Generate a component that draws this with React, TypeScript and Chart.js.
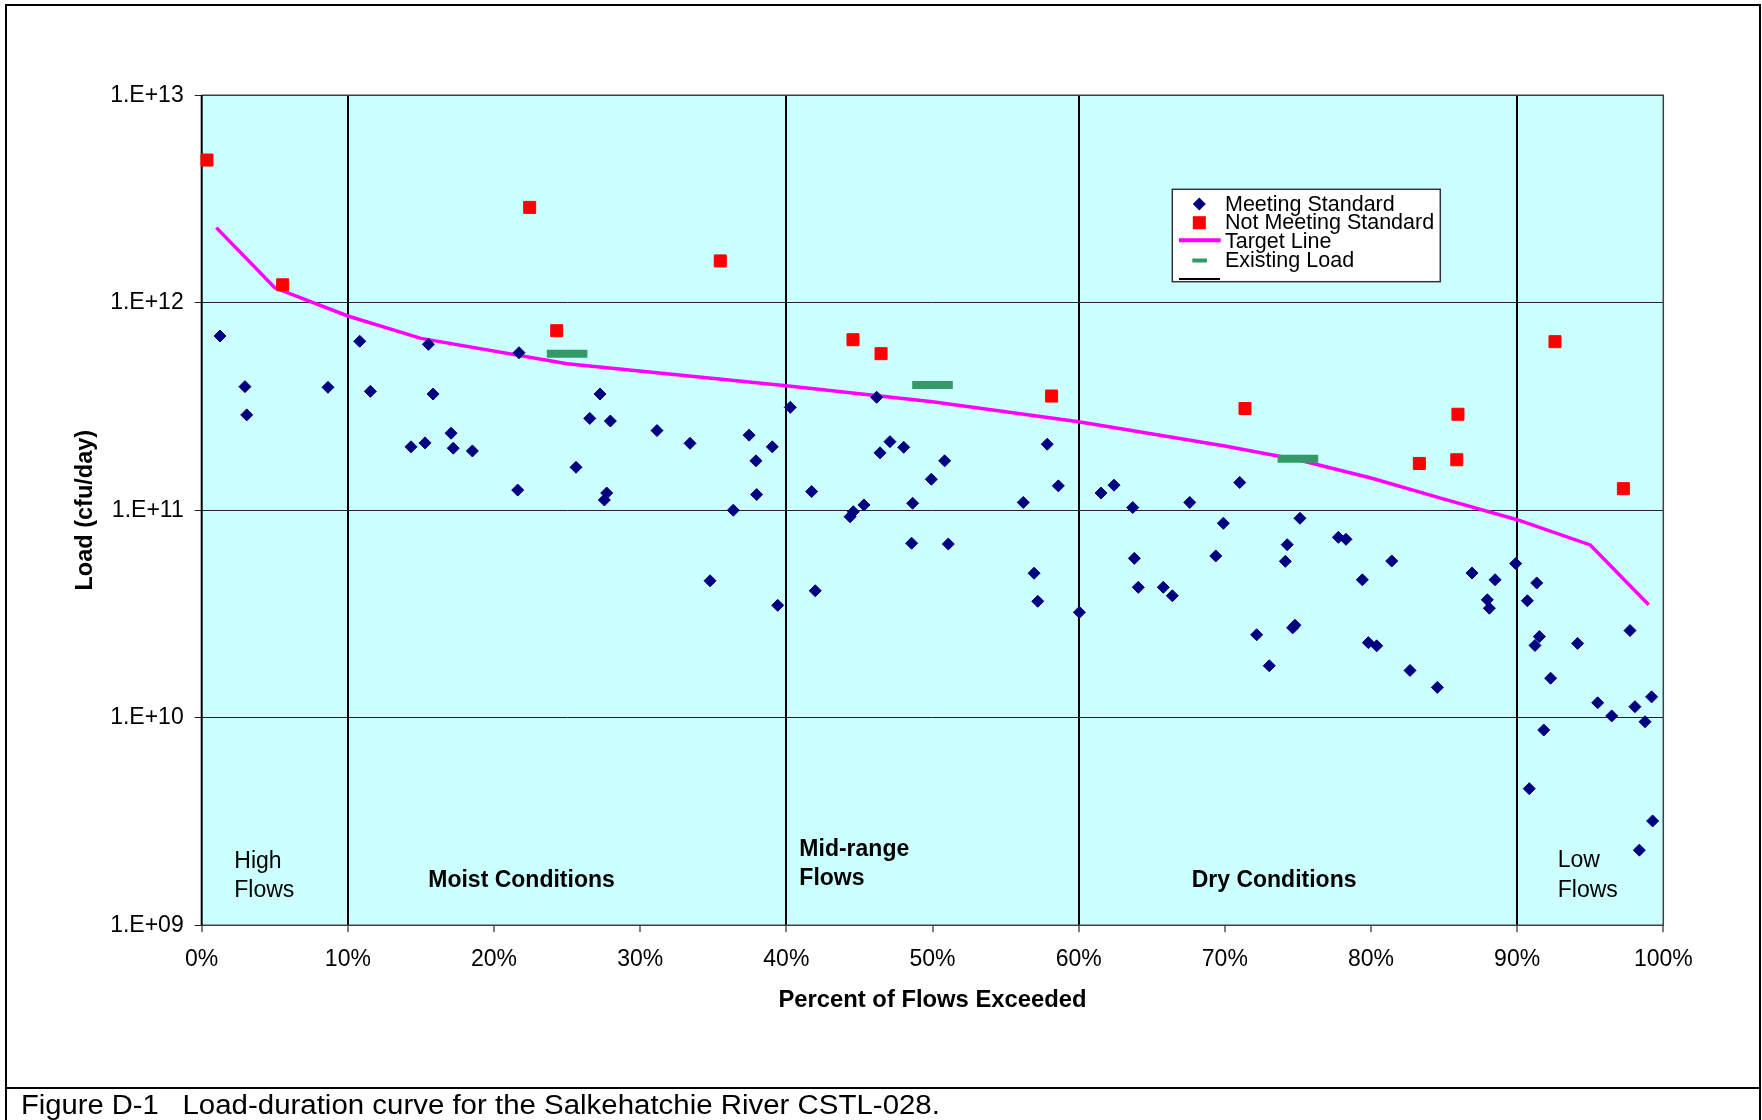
import React, { useEffect, useRef } from 'react';
import { Chart, registerables } from 'chart.js';

Chart.register(...registerables);

// Sampled loads that met the standard (percent of flows exceeded, cfu/day)
const meetingPct = [
  1.25, 2.96, 3.08, 8.64, 10.81, 11.54, 14.32, 15.28, 15.51, 15.83, 17.06, 17.21, 18.52, 21.62, 21.71,
  25.61, 26.55, 27.25, 27.55, 27.71, 27.96, 31.15, 33.41, 34.78, 36.37, 37.45, 37.92, 37.97, 39.04, 39.41,
  40.27, 41.73, 41.98, 44.36, 44.58, 45.31, 46.18, 46.41, 47.09, 48.03, 48.57, 48.64, 49.92, 50.83, 51.08,
  56.21, 56.95, 57.2, 57.85, 58.61, 60.05, 61.53, 62.42, 63.7, 63.81, 64.08, 65.79, 66.41, 67.6, 69.38,
  69.9, 71.02, 72.18, 73.04, 74.14, 74.27, 74.64, 74.8, 75.14, 77.77, 78.29, 79.41, 79.82, 80.39, 81.42,
  82.67, 84.54, 86.91, 87.96, 88.1, 88.49, 89.9, 90.7, 90.83, 91.22, 91.34, 91.52, 91.82, 92.29, 94.14,
  95.51, 96.47, 97.72, 98.06, 98.36, 98.75, 99.2, 99.27,
];
const meetingLoad = [
  6.91e11, 3.94e11, 2.88e11, 3.91e11, 6.52e11, 3.74e11, 2.02e11, 2.11e11, 6.3e11, 3.63e11, 2.35e11, 1.99e11, 1.93e11, 1.25e11, 5.74e11,
  1.61e11, 2.77e11, 3.63e11, 1.12e11, 1.21e11, 2.69e11, 2.42e11, 2.1e11, 4.57e10, 1.0e11, 2.3e11, 1.73e11, 1.19e11, 2.02e11, 3.48e10,
  3.13e11, 1.23e11, 4.09e10, 9.3e10, 9.83e10, 1.06e11, 3.5e11, 1.89e11, 2.14e11, 2.01e11, 6.93e10, 1.08e11, 1.41e11, 1.73e11, 6.87e10,
  1.09e11, 4.97e10, 3.64e10, 2.08e11, 1.31e11, 3.22e10, 1.21e11, 1.32e11, 1.03e11, 5.86e10, 4.25e10, 4.25e10, 3.87e10, 1.09e11, 6.02e10,
  8.65e10, 1.36e11, 2.51e10, 1.78e10, 5.67e10, 6.82e10, 2.71e10, 2.79e10, 9.14e10, 7.4e10, 7.24e10, 4.62e10, 2.3e10, 2.22e10, 5.69e10,
  1.69e10, 1.4e10, 4.98e10, 3.7e10, 3.37e10, 4.62e10, 5.53e10, 3.66e10, 4.55e9, 2.23e10, 4.46e10, 2.46e10, 8.72e9, 1.55e10, 2.28e10,
  1.18e10, 1.02e10, 2.63e10, 1.13e10, 2.3e9, 9.56e9, 1.26e10, 3.18e9,
];

// Sampled loads that exceeded the standard
const exceedPct = [0.36, 5.54, 22.44, 24.29, 35.48, 44.56, 46.48, 58.15, 71.38, 83.31, 85.87, 85.95, 92.59, 97.27];
const exceedLoad = [4.87e12, 1.22e12, 2.88e12, 7.33e11, 1.59e12, 6.63e11, 5.68e11, 3.55e11, 3.09e11, 1.68e11, 1.75e11, 2.9e11, 6.49e11, 1.27e11];

// Target load-duration curve
const targetPct = [1, 5, 10, 15, 25, 40, 50, 60, 70, 75, 80, 85, 90, 95, 99];
const targetLoad = [2.3e12, 1.18e12, 8.63e11, 6.73e11, 5.08e11, 3.98e11, 3.33e11, 2.67e11, 2.04e11, 1.75e11, 1.43e11, 1.13e11, 9.0e10, 6.8e10, 3.5e10];

// Existing load per flow zone
const existingPct = [25, 50, 75];
const existingLoad = [5.68e11, 4.01e11, 1.77e11];

// Axes
const xTickValues = [0, 10, 20, 30, 40, 50, 60, 70, 80, 90, 100];
const yTickExponents = [9, 10, 11, 12, 13];
const zoneBoundaries = [10, 40, 60, 90];

// Flow-zone captions: [lines, left edge in %, bold, baseline offsets above the x axis]
const zoneLabels: { lines: string[]; pct: number; bold: boolean; rise: number[] }[] = [
  { lines: ['High', 'Flows'], pct: 2.23, bold: false, rise: [57, 28] },
  { lines: ['Moist Conditions'], pct: 15.5, bold: true, rise: [38] },
  { lines: ['Mid-range', 'Flows'], pct: 40.89, bold: true, rise: [69, 40] },
  { lines: ['Dry Conditions'], pct: 67.73, bold: true, rise: [38] },
  { lines: ['Low', 'Flows'], pct: 92.78, bold: false, rise: [58, 28] },
];

const legendLabels = ['Meeting Standard', 'Not Meeting Standard', 'Target Line', 'Existing Load'];

const FONT = '"Liberation Sans", Arial, Helvetica, sans-serif';
const NAVY = '#000080';
const RED = '#FF0000';
const MAGENTA = '#FF00FF';
const GREEN = '#339966';
const PLOT_BG = '#CCFFFF';

const toPoints = (xs: number[], ys: number[]) => xs.map((x, i) => ({ x, y: ys[i] }));

const decorations = {
  id: 'ldcDecorations',
  beforeDraw(chart: any) {
    const { ctx, chartArea: a, width, height } = chart;
    ctx.save();
    ctx.fillStyle = '#FFFFFF';
    ctx.fillRect(0, 0, width, height);
    // figure frame and caption rule
    ctx.strokeStyle = '#000';
    ctx.lineWidth = 2;
    ctx.strokeRect(6, 5, width - 8, height + 10);
    ctx.beginPath();
    ctx.moveTo(6, 1088);
    ctx.lineTo(width - 2, 1088);
    ctx.stroke();
    // caption (slightly widened lettering)
    ctx.fillStyle = '#000';
    ctx.font = `27px ${FONT}`;
    ctx.textBaseline = 'alphabetic';
    ctx.textAlign = 'left';
    ctx.save();
    ctx.translate(21, 1114);
    ctx.scale(1.08, 1);
    ctx.fillText('Figure D-1', 0, 0);
    ctx.restore();
    ctx.save();
    ctx.translate(182.5, 1114);
    ctx.scale(1.09, 1);
    ctx.fillText('Load-duration curve for the Salkehatchie River CSTL-028.', 0, 0);
    ctx.restore();
    // plot area
    ctx.fillStyle = PLOT_BG;
    ctx.fillRect(a.left, a.top, a.right - a.left, a.bottom - a.top);
    ctx.restore();
  },
  beforeDatasetsDraw(chart: any) {
    const { ctx, chartArea: a } = chart;
    ctx.save();
    ctx.strokeStyle = '#404040';
    ctx.lineWidth = 1.5;
    ctx.beginPath();
    ctx.moveTo(a.left, a.top);
    ctx.lineTo(a.right, a.top);
    ctx.lineTo(a.right, a.bottom);
    ctx.lineTo(a.left, a.bottom);
    ctx.stroke();
    ctx.strokeStyle = '#000';
    ctx.lineWidth = 2;
    ctx.beginPath();
    ctx.moveTo(a.left, a.top);
    ctx.lineTo(a.left, a.bottom);
    ctx.stroke();
    ctx.restore();
  },
  afterDatasetsDraw(chart: any) {
    const { ctx, chartArea: a, scales } = chart;
    const xs = scales.x;
    ctx.save();
    ctx.fillStyle = '#000';
    ctx.textAlign = 'left';
    ctx.textBaseline = 'alphabetic';

    // flow-zone captions
    zoneLabels.forEach((z) => {
      ctx.font = `${z.bold ? 'bold ' : ''}23px ${FONT}`;
      const x = xs.getPixelForValue(z.pct);
      z.lines.forEach((line, i) => ctx.fillText(line, x, a.bottom - z.rise[i]));
    });

    // axis titles
    ctx.font = `bold 23.8px ${FONT}`;
    ctx.textAlign = 'center';
    ctx.fillText('Percent of Flows Exceeded', (a.left + a.right) / 2, a.bottom + 82);
    ctx.save();
    ctx.translate(85.5, (a.top + a.bottom) / 2);
    ctx.rotate(-Math.PI / 2);
    ctx.font = `bold 23.5px ${FONT}`;
    ctx.textBaseline = 'middle';
    ctx.fillText('Load (cfu/day)', 0, 0);
    ctx.restore();

    // legend
    const lx = a.left + 970.6;
    const ly = a.top + 94.1;
    const lw = 268;
    const lh = 92.4;
    ctx.fillStyle = '#FFFFFF';
    ctx.fillRect(lx, ly, lw, lh);
    ctx.strokeStyle = '#333';
    ctx.lineWidth = 1.5;
    ctx.strokeRect(lx, ly, lw, lh);

    const sx = lx + 27;
    const rows = [14.7, 33.4, 51, 71.2, 89.7];
    // diamond
    ctx.fillStyle = NAVY;
    ctx.beginPath();
    ctx.moveTo(sx - 6.5, ly + rows[0]);
    ctx.lineTo(sx, ly + rows[0] - 6.5);
    ctx.lineTo(sx + 6.5, ly + rows[0]);
    ctx.lineTo(sx, ly + rows[0] + 6.5);
    ctx.closePath();
    ctx.fill();
    // square
    ctx.fillStyle = RED;
    ctx.fillRect(sx - 6.5, ly + rows[1] - 6.5, 13, 13);
    // target line
    ctx.strokeStyle = MAGENTA;
    ctx.lineWidth = 4;
    ctx.beginPath();
    ctx.moveTo(lx + 6.7, ly + rows[2]);
    ctx.lineTo(lx + 48.4, ly + rows[2]);
    ctx.stroke();
    // existing load dash
    ctx.strokeStyle = GREEN;
    ctx.beginPath();
    ctx.moveTo(lx + 20, ly + rows[3]);
    ctx.lineTo(lx + 34.7, ly + rows[3]);
    ctx.stroke();
    // zone boundary line
    ctx.strokeStyle = '#000';
    ctx.lineWidth = 2;
    ctx.beginPath();
    ctx.moveTo(lx + 6.7, ly + rows[4]);
    ctx.lineTo(lx + 47.7, ly + rows[4]);
    ctx.stroke();

    ctx.fillStyle = '#000';
    ctx.font = `21.5px ${FONT}`;
    ctx.textAlign = 'left';
    ctx.textBaseline = 'alphabetic';
    const baselines = [21.4, 40, 59, 78];
    legendLabels.forEach((t, i) => ctx.fillText(t, lx + 52.7, ly + baselines[i]));
    ctx.restore();
  },
};

export default function App() {
  const canvasRef = useRef<HTMLCanvasElement | null>(null);

  useEffect(() => {
    const canvas = canvasRef.current;
    if (!canvas) return;
    const chart = new Chart(canvas, {
      type: 'scatter',
      data: {
        datasets: [
          {
            label: 'Not Meeting Standard',
            data: toPoints(exceedPct, exceedLoad),
            pointStyle: 'rect',
            pointRadius: 8.5,
            pointBackgroundColor: RED,
            pointBorderColor: RED,
            pointBorderWidth: 1,
            order: 1,
            clip: false,
          },
          {
            label: 'Meeting Standard',
            data: toPoints(meetingPct, meetingLoad),
            pointStyle: 'rectRot',
            pointRadius: 6,
            pointBackgroundColor: NAVY,
            pointBorderColor: NAVY,
            pointBorderWidth: 1,
            order: 2,
            clip: false,
          },
          {
            label: 'Existing Load',
            data: toPoints(existingPct, existingLoad),
            pointStyle: 'line',
            pointRadius: 20.3,
            pointBorderColor: GREEN,
            pointBorderWidth: 8,
            order: 3,
            clip: false,
          },
          {
            label: 'Target Line',
            data: toPoints(targetPct, targetLoad),
            showLine: true,
            borderColor: MAGENTA,
            borderWidth: 3.5,
            pointRadius: 0,
            tension: 0,
            order: 4,
            clip: false,
          },
        ],
      } as any,
      options: {
        responsive: false,
        animation: false,
        devicePixelRatio: 1,
        events: [],
        layout: { padding: { top: 95.2, right: 98.7, left: 0, bottom: 0 } },
        plugins: {
          legend: { display: false },
          tooltip: { enabled: false },
        },
        scales: {
          x: {
            type: 'linear',
            min: 0,
            max: 100,
            afterFit: (s: any) => {
              s.height = 194.8;
            },
            afterBuildTicks: (s: any) => {
              s.ticks = xTickValues.map((v) => ({ value: v }));
            },
            border: { display: false },
            grid: {
              color: (c: any) => (zoneBoundaries.includes(c.tick?.value) ? '#000000' : 'rgba(0,0,0,0)'),
              lineWidth: 2,
              tickColor: '#000000',
              tickWidth: 1,
              tickLength: 7,
              drawTicks: true,
            },
            ticks: {
              autoSkip: false,
              maxRotation: 0,
              padding: 14,
              color: '#000',
              font: { family: FONT, size: 23 },
              callback: (v: any) => `${v}%`,
            },
          },
          y: {
            type: 'logarithmic',
            min: 1e9,
            max: 1e13,
            afterFit: (s: any) => {
              s.width = 201.7;
            },
            afterBuildTicks: (s: any) => {
              s.ticks = yTickExponents.map((e) => ({ value: Math.pow(10, e) }));
            },
            border: { display: false },
            grid: {
              color: '#222222',
              lineWidth: 1,
              tickColor: '#222222',
              tickLength: 7,
              drawTicks: true,
            },
            ticks: {
              autoSkip: false,
              padding: 11,
              color: '#000',
              font: { family: FONT, size: 23 },
              callback: (v: any) => {
                const e = Math.round(Math.log10(Number(v)));
                return `1.E+${String(e).padStart(2, '0')}`;
              },
            },
          },
        },
      } as any,
      plugins: [decorations],
    });
    return () => chart.destroy();
  }, []);

  return (
    <div style={{ position: 'absolute', left: 0, top: 0, width: 1762, height: 1120, background: '#fff', overflow: 'hidden' }}>
      <canvas ref={canvasRef} width={1762} height={1120} style={{ display: 'block', width: 1762, height: 1120 }} />
    </div>
  );
}
